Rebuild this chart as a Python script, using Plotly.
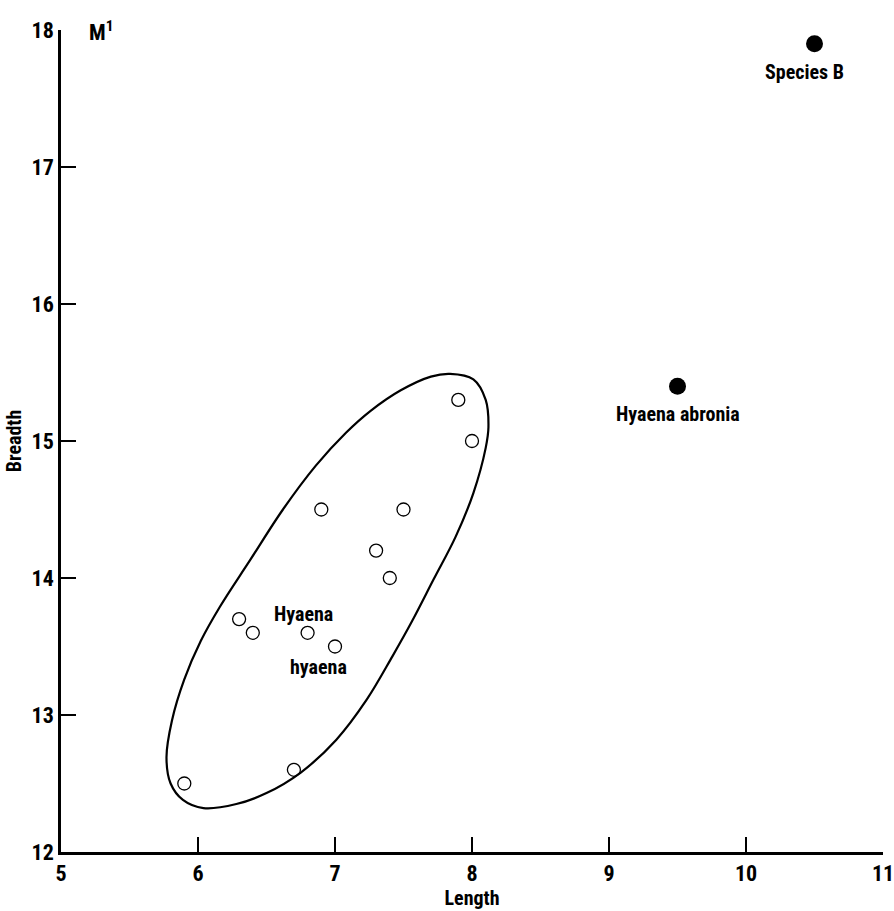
import plotly.graph_objects as go

# Hyaena hyaena M1 measurements (Length, Breadth)
hyaena_length = [5.9, 6.3, 6.4, 6.8, 7.0, 6.7, 6.9, 7.5, 7.3, 7.4, 7.9, 8.0]
hyaena_breadth = [12.5, 13.7, 13.6, 13.6, 13.5, 12.6, 14.5, 14.5, 14.2, 14.0, 15.3, 15.0]

# Other species
other_names = ["Hyaena abronia", "Species B"]
other_length = [9.5, 10.5]
other_breadth = [15.4, 17.9]

# Hand-drawn envelope around the Hyaena hyaena points
envelope_x = [7.84, 8.01, 8.10, 8.12, 8.10, 8.01, 7.88, 7.72, 7.56, 7.42, 7.23, 7.01, 6.75,
              6.50, 6.28, 6.04, 5.89, 5.80, 5.77, 5.81, 5.90, 6.02, 6.16, 6.38, 6.62, 6.86,
              7.08, 7.26, 7.48, 7.70, 7.84]
envelope_y = [15.49, 15.45, 15.30, 15.10, 14.95, 14.62, 14.30, 13.99, 13.68, 13.43, 13.11, 12.82, 12.58,
              12.43, 12.35, 12.32, 12.38, 12.50, 12.69, 12.96, 13.26, 13.54, 13.79, 14.13, 14.50, 14.82,
              15.06, 15.22, 15.37, 15.47, 15.49]

x_ticks = [5, 6, 7, 8, 9, 10, 11]
y_ticks = [12, 13, 14, 15, 16, 17, 18]

FONT = "Liberation Sans Narrow, Roboto Condensed, Arial Narrow, sans-serif"

fig = go.Figure()
fig.add_trace(go.Scatter(x=envelope_x, y=envelope_y, mode="lines",
                         line=dict(color="black", width=2.2, shape="spline", smoothing=1.0),
                         hoverinfo="skip", showlegend=False))
fig.add_trace(go.Scatter(x=hyaena_length, y=hyaena_breadth, mode="markers",
                         marker=dict(symbol="circle-open", size=13, color="black", line=dict(width=1.3)),
                         showlegend=False))
fig.add_trace(go.Scatter(x=other_length, y=other_breadth, mode="markers",
                         marker=dict(symbol="circle", size=17, color="black"),
                         showlegend=False))

font_lbl = dict(family=FONT, size=20, color="black")
for name, x, y in zip(other_names, other_length, other_breadth):
    fig.add_annotation(x=x, y=y, text="<b>" + name + "</b>", showarrow=False,
                       yshift=-28, xshift=-10 if name == "Species B" else 0, font=font_lbl)
fig.add_annotation(x=6.77, y=13.74, text="<b>Hyaena</b>", showarrow=False, font=font_lbl)
fig.add_annotation(x=6.88, y=13.35, text="<b>hyaena</b>", showarrow=False, font=font_lbl)
fig.add_annotation(x=5.29, y=17.99, text="<b>M<sup>1</sup></b>", showarrow=False,
                   font=dict(family=FONT, size=22, color="black"))

axis_common = dict(showline=True, linecolor="black", linewidth=2.5, mirror=False,
                   ticks="inside", ticklen=15, tickwidth=2, tickcolor="black",
                   showgrid=False, zeroline=False, automargin=False,
                   ticklabeloverflow="allow",
                   tickfont=dict(family=FONT, size=22, color="black"))

fig.update_xaxes(range=[5, 11], tickvals=x_ticks, ticktext=["<b>%d</b>" % v for v in x_ticks],
                 title=dict(text="<b>Length</b>", font=dict(family=FONT, size=20, color="black"), standoff=2),
                 **axis_common)
fig.update_yaxes(range=[12, 18], tickvals=y_ticks, ticktext=["<b>%d</b>" % v for v in y_ticks],
                 title=dict(text="<b>Breadth</b>", font=dict(family=FONT, size=20, color="black"), standoff=5),
                 **axis_common)

fig.update_layout(width=894, height=911, plot_bgcolor="white", paper_bgcolor="white",
                  margin=dict(l=61, r=11, t=30, b=59))

# remove the default page margin so the figure fills the window exactly
fig.write_html("out.html", config={"displayModeBar": False},
               post_script="document.body.style.margin='0';document.body.style.overflow='hidden';")
